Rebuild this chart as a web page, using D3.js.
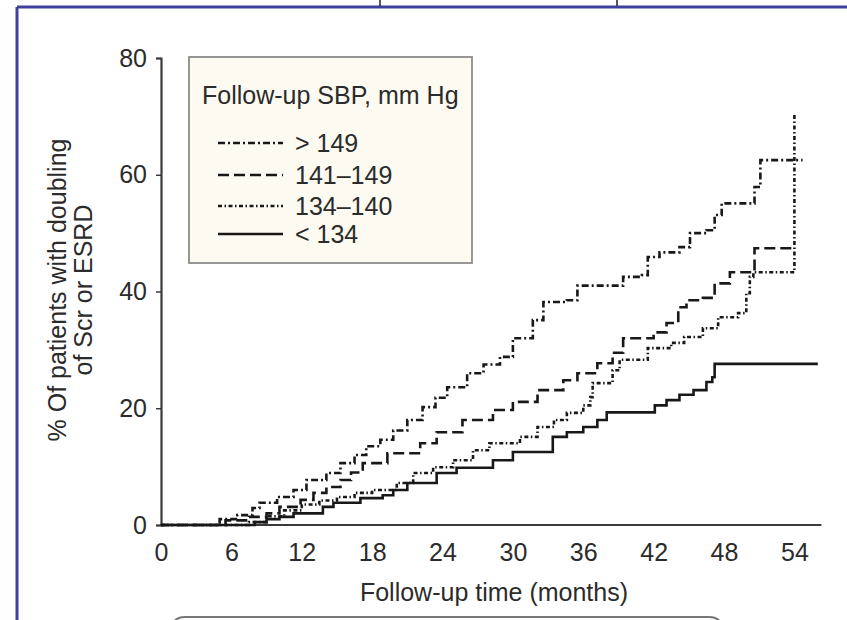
<!DOCTYPE html>
<html>
<head>
<meta charset="utf-8">
<script src="https://cdn.jsdelivr.net/npm/d3@7"></script>
<style>
  body { margin: 0; background: #fff; }
  text { font-family: "Liberation Sans", Arial, sans-serif; fill: #2b2b2b; }
</style>
</head>
<body>
<div id="container"></div>
<script>
    // Data
    let xTicks = [0, 6, 12, 18, 24, 30, 36, 42, 48, 54];
    let yTicks = [0, 20, 40, 60, 80];
    let groups = ["> 149", "141\u2013149", "134\u2013140", "< 134"];

    // step times (months) and cumulative % after each step
    let monthsGt149 = [0, 5.0, 6.5, 7.8, 8.4, 9.9, 11.3, 12.4, 14.1, 15.3, 16.5, 17.5, 18.7, 19.8, 21.0, 22.3, 23.4, 24.4, 26.1, 27.5, 28.9, 30.0, 31.7, 32.6, 34.6, 35.5, 39.4, 41.0, 41.5, 42.5, 44.2, 45.1, 46.5, 47.2, 47.8, 50.6, 51.1, 54.7];
    let valuesGt149 = [0, 1.0, 1.7, 2.9, 3.8, 4.8, 6.0, 7.7, 8.9, 10.6, 12.0, 13.5, 14.6, 16.2, 18.0, 20.2, 21.8, 23.6, 26.0, 27.5, 28.8, 32.0, 35.1, 38.2, 38.5, 41.0, 42.5, 42.8, 45.9, 46.7, 47.6, 50.0, 50.5, 53.1, 55.1, 57.9, 62.5, 62.5];

    let months141 = [0, 5.5, 7.5, 9.0, 10.1, 11.9, 13.0, 14.1, 15.3, 16.2, 17.2, 19.3, 22.1, 23.5, 25.7, 28.3, 30.0, 32.1, 34.3, 35.5, 37.2, 38.5, 39.4, 42.0, 43.1, 44.1, 44.8, 46.2, 47.2, 48.5, 50.6, 53.9];
    let values141 = [0, 0.8, 1.4, 2.0, 3.1, 4.3, 5.5, 6.5, 7.7, 9.0, 10.6, 12.3, 14.0, 15.9, 18.0, 19.7, 21.1, 23.1, 24.8, 26.0, 27.7, 29.5, 32.0, 33.0, 34.6, 37.3, 38.5, 38.9, 41.4, 43.3, 47.4, 47.4];

    let months134 = [0, 7.5, 9.0, 10.5, 12.0, 13.5, 15.0, 16.5, 18.0, 20.1, 21.5, 23.2, 24.9, 26.6, 28.0, 30.6, 32.1, 33.5, 34.6, 36.0, 36.6, 36.8, 38.5, 39.1, 41.5, 43.5, 44.6, 46.2, 47.5, 49.2, 49.9, 50.2, 50.5, 54.0];
    let values134 = [0, 0.5, 1.5, 2.5, 3.5, 4.2, 4.8, 5.5, 6.0, 7.2, 8.9, 9.9, 11.1, 12.8, 14.0, 15.1, 16.8, 18.0, 19.2, 20.5, 21.9, 24.3, 26.5, 28.3, 30.3, 31.2, 32.2, 33.7, 35.6, 36.3, 39.7, 42.5, 43.3, 70.5];

    let monthsLt134 = [0, 8.0, 9.0, 10.1, 11.3, 13.8, 14.7, 17.0, 18.9, 19.8, 21.0, 23.5, 25.2, 28.3, 30.0, 33.4, 34.6, 36.0, 37.2, 38.0, 42.1, 43.1, 44.2, 45.4, 46.5, 47.0, 47.2, 56.0];
    let valuesLt134 = [0, 0.5, 1.0, 1.4, 2.0, 3.1, 3.8, 4.6, 5.1, 6.0, 7.2, 8.9, 9.8, 11.1, 12.5, 15.1, 15.9, 16.8, 18.0, 19.3, 20.5, 21.4, 22.3, 23.1, 24.5, 25.3, 27.6, 27.6];

    let dashes = ["7,3,2,3", "11,5", "4,2.5,1.5,2.5", null];

    let series = [
        { months: monthsGt149, values: valuesGt149 },
        { months: months141, values: values141 },
        { months: months134, values: values134 },
        { months: monthsLt134, values: valuesLt134 }
    ];

    // Set up SVG
    let width = 847, height = 620;
    let svg = d3.select("#container")
        .append("svg")
        .attr("width", width)
        .attr("height", height);

    // page frame around the scanned figure
    svg.append("line").attr("x1", 17).attr("x2", width).attr("y1", 7).attr("y2", 7)
        .attr("stroke", "#3f3f9f").attr("stroke-width", 3);
    svg.append("line").attr("x1", 17).attr("x2", 17).attr("y1", 7).attr("y2", height)
        .attr("stroke", "#3f3f9f").attr("stroke-width", 3);
    [380, 617].forEach(x => {
        svg.append("line").attr("x1", x).attr("x2", x).attr("y1", 0).attr("y2", 6)
            .attr("stroke", "#222").attr("stroke-width", 1.5);
    });
    svg.append("path")
        .attr("d", "M172,630 Q172,617 185,617 L709,617 Q722,617 722,630")
        .attr("fill", "none").attr("stroke", "#777").attr("stroke-width", 2);

    // Scales
    let x = d3.scaleLinear().domain([0, 54]).range([161, 794.4]);
    let y = d3.scaleLinear().domain([0, 80]).range([525, 58]);

    // Axes
    let xAxis = svg.append("g")
        .attr("transform", "translate(0,525)")
        .call(d3.axisBottom(x).tickValues(xTicks).tickSize(0).tickPadding(18));
    xAxis.select(".domain").attr("d", `M${x(0) - 1},0H${x(56.3)}`);

    let yAxis = svg.append("g")
        .attr("transform", "translate(161,0)")
        .call(d3.axisLeft(y).tickValues(yTicks).tickSize(5).tickPadding(9));

    [xAxis, yAxis].forEach(g => {
        g.select(".domain").attr("stroke", "#3a3a3a").attr("stroke-width", 2.2);
        g.selectAll(".tick line").attr("stroke", "#3a3a3a").attr("stroke-width", 1.5);
        g.selectAll(".tick text")
            .attr("font-size", 25)
            .attr("font-family", "Liberation Sans, Arial, sans-serif")
            .attr("fill", "#2b2b2b");
    });

    // Axis titles
    svg.append("text")
        .attr("x", 494).attr("y", 601)
        .attr("text-anchor", "middle")
        .attr("font-size", 25)
        .text("Follow-up time (months)");

    let yTitle = svg.append("text")
        .attr("transform", "translate(66,290) rotate(-90)")
        .attr("text-anchor", "middle")
        .attr("font-size", 25);
    yTitle.append("tspan").attr("x", 0).attr("y", 0).text("% Of patients with doubling");
    yTitle.append("tspan").attr("x", 0).attr("y", 26).text("of Scr or ESRD");

    // Curves
    let line = d3.line()
        .x(d => x(d[0]))
        .y(d => y(d[1]))
        .curve(d3.curveStepAfter);

    series.forEach((s, i) => {
        let pts = s.months.map((m, j) => [m, s.values[j]]);
        svg.append("path")
            .datum(pts)
            .attr("d", line)
            .attr("fill", "none")
            .attr("stroke", "#181818")
            .attr("stroke-width", 2.6)
            .attr("stroke-dasharray", dashes[i]);
    });

    // Legend
    let legend = svg.append("g");
    legend.append("rect")
        .attr("x", 189).attr("y", 57)
        .attr("width", 283).attr("height", 206)
        .attr("fill", "#fcfaf1")
        .attr("stroke", "#8c8c8c")
        .attr("stroke-width", 1.8);
    legend.append("text")
        .attr("x", 202).attr("y", 104)
        .attr("font-size", 25)
        .text("Follow-up SBP, mm Hg");

    let rowY = [143, 175, 206, 234];
    groups.forEach((g, i) => {
        legend.append("line")
            .attr("x1", 218).attr("x2", 283)
            .attr("y1", rowY[i]).attr("y2", rowY[i])
            .attr("stroke", "#181818")
            .attr("stroke-width", 2.6)
            .attr("stroke-dasharray", dashes[i]);
        legend.append("text")
            .attr("x", 295).attr("y", rowY[i] + 9)
            .attr("font-size", 25)
            .text(g);
    });
</script>
</body>
</html>
